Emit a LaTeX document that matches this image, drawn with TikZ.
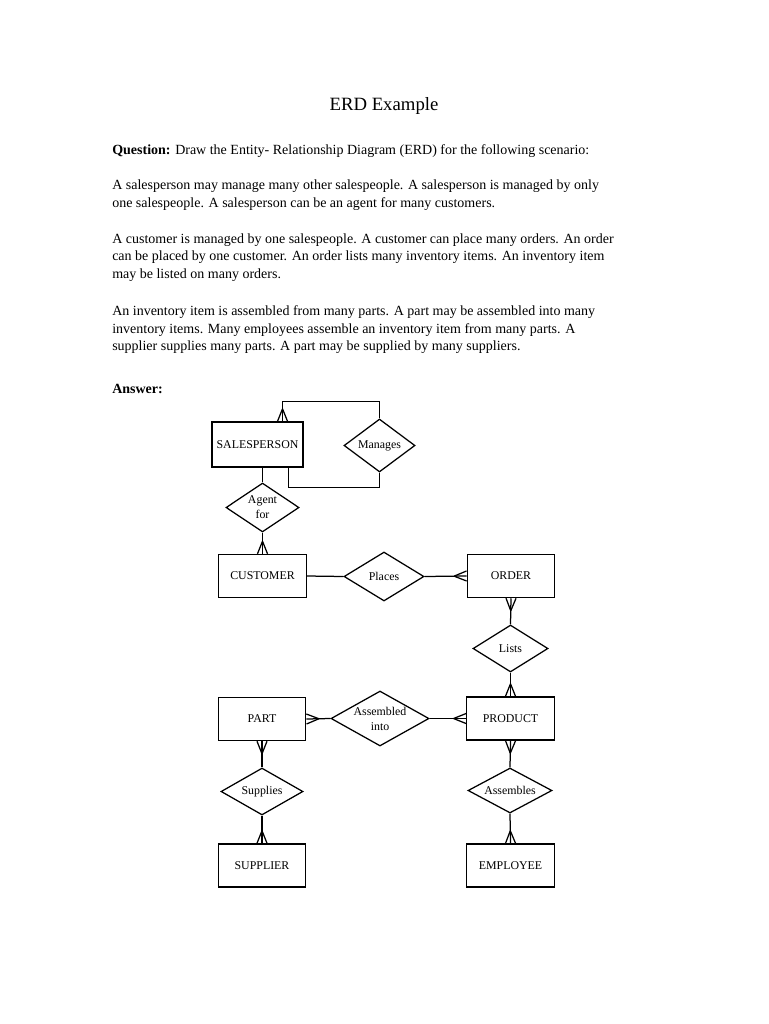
\documentclass[tikz,border=0pt]{standalone}
\usepackage{fontspec}
\setmainfont{Liberation Serif}
\usetikzlibrary{shapes.geometric,decorations.markings}
\tikzset{
  entity/.style={draw, line width=1.1pt, minimum width=70pt, minimum height=34.5pt, inner sep=0pt, font=\fontsize{9.5}{11}\selectfont},
  relation/.style={draw, diamond, line width=1pt, inner sep=0pt, align=center, font=\fontsize{9.5}{12}\selectfont},
  link/.style={line width=1pt},
  many start/.style={postaction={decorate, decoration={markings,
    mark=at position 0 with {\draw[line width=1pt] (10pt,0) -- (0,4pt) (10pt,0) -- (0,-4pt);}}}},
  many end/.style={postaction={decorate, decoration={markings,
    mark=at position 1 with {\draw[line width=1pt] (-10pt,0) -- (0,4pt) (-10pt,0) -- (0,-4pt);}}}},
  txt/.style={anchor=base west, inner sep=0pt, font=\fontsize{11.2}{13}\selectfont}
}
\begin{document}
\begin{tikzpicture}[x=0.8pt,y=-0.8pt]
\useasboundingbox (0,0) rectangle (768,1024);

% question text
\node[anchor=base, inner sep=0pt, font=\fontsize{15}{17}\selectfont] (title) at (384,111) {ERD Example};
\node[txt] (q) at (112,155) {\textbf{Question:} Draw the Entity- Relationship Diagram (ERD) for the following scenario:};
\node[txt] (p1a) at (112,190) {A salesperson may manage many other salespeople. A salesperson is managed by only};
\node[txt] (p1b) at (112,208) {one salespeople. A salesperson can be an agent for many customers.};
\node[txt] (p2a) at (112,243) {A customer is managed by one salespeople. A customer can place many orders. An order};
\node[txt] (p2b) at (112,261) {can be placed by one customer. An order lists many inventory items. An inventory item};
\node[txt] (p2c) at (112,278) {may be listed on many orders.};
\node[txt] (p3a) at (112,315) {An inventory item is assembled from many parts. A part may be assembled into many};
\node[txt] (p3b) at (112,333) {inventory items. Many employees assemble an inventory item from many parts. A};
\node[txt] (p3c) at (112,350) {supplier supplies many parts. A part may be supplied by many suppliers.};
\node[txt] (ans) at (112,393) {\textbf{Answer:}};

% entities
\node[entity, minimum width=73pt, minimum height=36pt] (sales) at (257.5,444.5) {SALESPERSON};
\node[entity] (customer) at (262.5,576) {CUSTOMER};
\node[entity] (order) at (511,576) {ORDER};
\node[entity] (product) at (510.5,718.5) {PRODUCT};
\node[entity] (part) at (262,719) {PART};
\node[entity] (supplier) at (262,865.5) {SUPPLIER};
\node[entity] (employee) at (510.5,865.5) {EMPLOYEE};

% relationships
\node[relation, aspect=1.34, minimum width=56.8pt, minimum height=42.4pt] (manages) at (379.5,445.5) {Manages};
\node[relation, aspect=1.49, minimum width=58.4pt, minimum height=39.2pt] (agent) at (262.5,507.5) {Agent\\for};
\node[relation, aspect=1.63, minimum width=64pt, minimum height=39.2pt] (places) at (384,576.5) {Places};
\node[relation, aspect=1.6, minimum width=60pt, minimum height=37.6pt] (lists) at (510.5,648.5) {Lists};
\node[relation, aspect=1.78, minimum width=78.4pt, minimum height=44pt] (assembled) at (380,718.5) {Assembled\\into};
\node[relation, aspect=1.74, minimum width=65.6pt, minimum height=37.6pt] (supplies) at (262,791.5) {Supplies};
\node[relation, aspect=1.87, minimum width=67.2pt, minimum height=36pt] (assembles) at (510,790.5) {Assembles};

% connectors
\draw[link, many start] ([xshift=20pt]sales.north) -- ++(0,-20) -| (manages.north);
\draw[link] ([xshift=25pt]sales.south) -- ++(0,20) -| (manages.south);
\draw[link] (sales.south -| agent.north) -- (agent.north);
\draw[link, many end] (agent.south) -- (customer.north);
\draw[link] (customer.east) -- (places.west);
\draw[link, many end] (places.east) -- (order.west);
\draw[link, many start] (order.south) -- (lists.north);
\draw[link, many end] (lists.south) -- (product.north);
\draw[link, many start] (part.east) -- (assembled.west);
\draw[link, many end] (assembled.east) -- (product.west);
\draw[link, many start] (part.south) -- (supplies.north);
\draw[link, many end] (supplies.south) -- (supplier.north);
\draw[link, many start] (product.south) -- (assembles.north);
\draw[link, many end] (assembles.south) -- (employee.north);
\end{tikzpicture}
\end{document}
